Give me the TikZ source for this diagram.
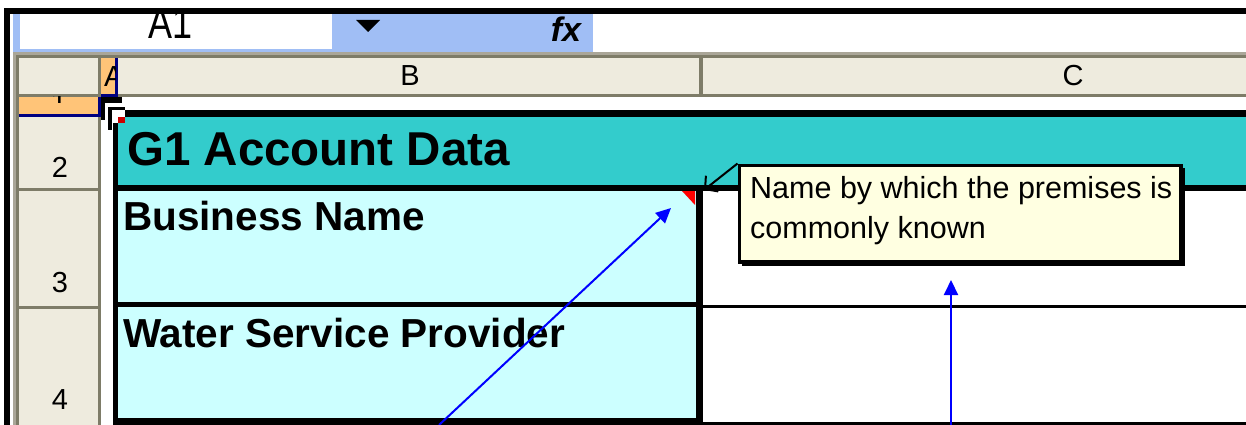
\documentclass[tikz,border=0pt]{standalone}
\usepackage{fontspec}
\setmainfont{Liberation Sans}
\usetikzlibrary{arrows.meta}

\definecolor{XlBar}{RGB}{160,190,245}
\definecolor{XlHeadFill}{RGB}{238,235,222}
\definecolor{XlHeadLine}{RGB}{126,124,104}
\definecolor{XlBand}{RGB}{170,166,152}
\definecolor{XlSel}{RGB}{255,196,120}
\definecolor{XlNavy}{RGB}{0,0,128}
\definecolor{XlTeal}{RGB}{51,204,204}
\definecolor{XlCyan}{RGB}{204,255,255}
\definecolor{XlNoteFill}{RGB}{255,255,225}

\tikzset{XlHeadText/.style={inner sep=0pt,font=\fontsize{29}{34}\selectfont},
         XlCellText/.style={inner sep=0pt,anchor=base west,font=\fontsize{40.5}{48}\selectfont\bfseries},
         XlNoteText/.style={inner sep=0pt,anchor=base west,font=\fontsize{30.5}{40}\selectfont},
         XlNoteBox/.style={draw=black,line width=3.5pt,fill=XlNoteFill,inner sep=0pt,
                           minimum width=441.5pt,minimum height=96.5pt,anchor=north west},
         XlLeader/.style={line width=2pt,-{Straight Barb[length=9pt,width=20pt]}},
         XlPointer/.style={blue,line width=2pt,-{Triangle[length=15pt,width=14pt]}}}

\begin{document}
\begin{tikzpicture}[x=1pt,y=-1pt]
  \useasboundingbox (0,0) rectangle (1246,425);
  \fill[white] (0,0) rectangle (1246,425);
  % formula bar
  \fill[XlBar] (13,14) rectangle (593,52);
  \fill[white] (20,14) rectangle (332,49);
  \begin{scope}
    \clip (20,14) rectangle (332,49);
    \node[inner sep=0pt,anchor=base,font=\fontsize{36}{40}\selectfont,yscale=1.25] (cellref) at (171,39) {A1};
  \end{scope}
  \fill[black] (356,20) -- (380,20) -- (368,32) -- cycle;
  \node[inner sep=0pt,font=\fontsize{34}{36}\selectfont\bfseries\itshape] (fxlabel) at (566,29) {fx};
  % sheet frame and headings
  \fill[XlBand] (13,52) rectangle (1246,55);
  \fill[XlHeadLine] (16,55) rectangle (1246,58);
  \fill[XlHeadLine] (16,55) rectangle (19,425);
  \fill[XlBand] (13,55) rectangle (16,425);
  \fill[XlHeadFill] (19,58) rectangle (1246,94);
  \fill[XlHeadLine] (19,94) rectangle (1246,97);
  \fill[XlHeadFill] (19,97) rectangle (98,425);
  \fill[XlHeadLine] (98,58) rectangle (101,425);
  \fill[XlHeadLine] (699,58) rectangle (703,97);
  \foreach \y in {188,306}
    \fill[XlHeadLine] (19,\y) rectangle (98,\y+3);
  % selected column A and row 1
  \fill[XlSel] (101,58) rectangle (115,94);
  \fill[XlNavy] (115,58) rectangle (118,97);
  \fill[XlNavy] (101,94) rectangle (118,97);
  \fill[XlSel] (19,97) rectangle (98,114);
  \fill[XlNavy] (19,114) rectangle (101,117);
  \fill[XlNavy] (98,97) rectangle (101,117);
  \begin{scope}
    \clip (101,58) rectangle (115,94);
    \node[XlHeadText,anchor=base west] (colA) at (104,87) {A};
  \end{scope}
  \begin{scope}
    \clip (19,97) rectangle (98,103);
    \node[XlHeadText,anchor=base] (row1) at (59,112) {1};
  \end{scope}
  \node[XlHeadText] (colB) at (410,76) {B};
  \node[XlHeadText] (colC) at (1073,76) {C};
  \foreach \r/\y in {2/167,3/283,4/400}
    \node[XlHeadText] (row\r) at (60,\y) {\r};
  % cells
  \fill[XlTeal] (118,117) rectangle (1246,185);
  \fill[XlCyan] (118,191) rectangle (696,302);
  \fill[XlCyan] (118,307) rectangle (696,418);
  \fill[black] (113,110) rectangle (1246,117);
  \fill[black] (113,117) rectangle (118,425);
  \fill[black] (113,185) rectangle (1246,191);
  \fill[black] (113,302) rectangle (703,307);
  \fill[black] (703,305) rectangle (1246,308);
  \fill[black] (113,418) rectangle (703,425);
  \fill[black] (703,422) rectangle (1246,425);
  \fill[black] (696,185) rectangle (703,425);
  % cell cursor and fill handle
  \fill[white] (112,110) rectangle (125,123);
  \fill[black] (101,97) rectangle (105,120);
  \fill[black] (101,97) rectangle (122,103);
  \fill[black] (108,107) rectangle (112,130);
  \fill[black] (108,107) rectangle (125,110);
  \fill[red!80!black] (118,117) rectangle (125,123);
  % comment indicator
  \fill[red] (682,191) -- (695,191) -- (695,205) -- cycle;
  \coordinate (commentMark) at (671,208);
  \coordinate (commentCorner) at (704,190);
  \node[XlCellText,font=\fontsize{47.5}{52}\selectfont\bfseries] (g1title) at (127,165) {G1 Account Data};
  \node[XlCellText] (bizname) at (123,230) {Business Name};
  \node[XlCellText] (wsp) at (123,347) {Water Service Provider};
  % comment box with shadow
  \fill[black] (742,168) rectangle (1185,266);
  \node[XlNoteBox] (note) at (737.5,163.5) {};
  \node[XlNoteText] (noteA) at (750,198) {Name by which the premises is};
  \node[XlNoteText] (noteB) at (750,238) {commonly known};
  \draw[XlLeader] (note.north west) -- (commentCorner);
  % pointers
  \coordinate (bizTail) at (439,425);
  \coordinate (valTail) at (951,425);
  \coordinate (valTip) at (951,280);
  \draw[XlPointer] (bizTail) -- (commentMark);
  \draw[XlPointer] (valTail) -- (valTip);
  % outer frame
  \fill[black] (4,8) rectangle (1246,14);
  \fill[black] (4,8) rectangle (10,425);
\end{tikzpicture}
\end{document}
